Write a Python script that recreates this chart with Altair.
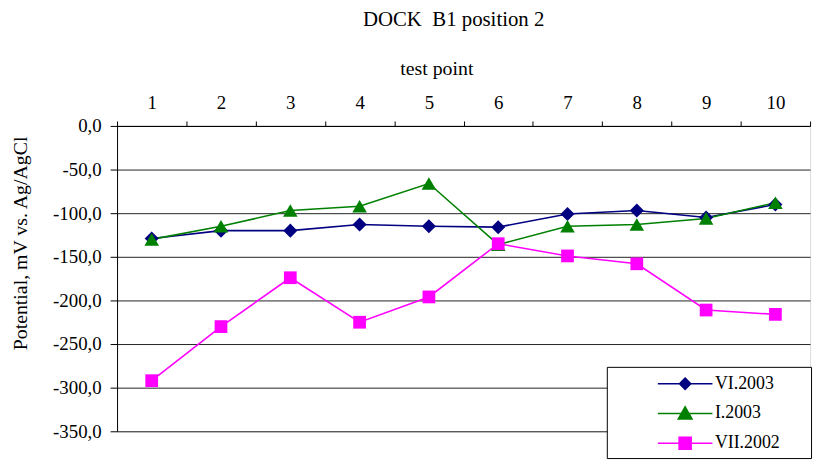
import altair as alt
import pandas as pd

test_points = ["1", "2", "3", "4", "5", "6", "7", "8", "9", "10"]
series_names = ["VI.2003", "I.2003", "VII.2002"]
vi_2003 = [-129, -120, -120, -113, -115, -116, -101, -97, -105, -90]
i_2003 = [-130, -115, -97, -92, -66, -136, -115, -113, -106, -88]
vii_2002 = [-292, -230, -174, -225, -196, -135, -149, -158, -211, -216]
colors = ["#000080", "#008000", "#FF00FF"]
marker_shapes = ["diamond", "triangle-up", "square"]
marker_sizes = [200, 215, 165]
y_ticks = [0, -50, -100, -150, -200, -250, -300, -350]

# legend symbols: short line with marker
legend_paths = [
    "M-2.55,0H2.55M0,-0.52L0.52,0L0,0.52L-0.52,0Z",
    "M-2.55,0H2.55M0,-0.62L0.64,0.52L-0.64,0.52Z",
    "M-2.55,0H2.55M-0.56,-0.56H0.56V0.56H-0.56Z",
]

rows = []
for name, vals in zip(series_names, [vi_2003, i_2003, vii_2002]):
    for tp, v in zip(test_points, vals):
        rows.append({"point": tp, "series": name, "value": v})
df = pd.DataFrame(rows)

FONT = "Liberation Serif"

x_enc = alt.X(
    "point:O",
    sort=test_points,
    scale=alt.Scale(type="band", paddingInner=0, paddingOuter=0),
    axis=alt.Axis(
        orient="top",
        title="test point",
        labelAngle=0,
        tickBand="extent",
        tickSize=5,
        tickColor="black",
        domainColor="black",
        labelFont=FONT,
        labelFontSize=19,
        labelColor="black",
        labelPadding=9,
        titleFont=FONT,
        titleFontSize=20,
        titleFontWeight="normal",
        titleColor="black",
        titleX=322,
        titleY=-58,
        titleBaseline="middle",
        titleAlign="center",
        grid=False,
    ),
)
y_enc = alt.Y(
    "value:Q",
    scale=alt.Scale(domain=[-350, 0], nice=False, zero=False),
    axis=alt.Axis(
        values=y_ticks,
        labelExpr="datum.value + ',0'",
        title="Potential, mV vs. Ag/AgCl",
        grid=True,
        gridColor="#222222",
        gridWidth=1,
        tickColor="black",
        tickSize=7,
        domainColor="black",
        labelFont=FONT,
        labelFontSize=19,
        labelColor="black",
        labelPadding=9,
        titleFont=FONT,
        titleFontSize=20,
        titleFontWeight="normal",
        titleColor="black",
        titleX=-97,
        titleY=118,
        titleBaseline="middle",
        titleAlign="center",
    ),
)

base = alt.Chart(df)

layers = []
for name, col in zip(series_names, colors):
    layers.append(
        base.transform_filter(alt.datum.series == name)
        .mark_line(color=col, strokeWidth=1.6)
        .encode(x=x_enc, y=y_enc)
    )
for name, col, shp, sz in zip(series_names, colors, marker_shapes, marker_sizes):
    layers.append(
        base.transform_filter(alt.datum.series == name)
        .mark_point(color=col, shape=shp, filled=True, size=sz, opacity=1)
        .encode(x=x_enc, y=y_enc)
    )

legend = alt.Legend(
    title=None,
    orient="none",
    legendX=494,
    legendY=243,
    direction="vertical",
    symbolSize=467,
    symbolStrokeWidth=1.6,
    symbolOpacity=1,
    symbolOffset=62,
    labelOffset=18,
    labelFont=FONT,
    labelFontSize=18,
    labelColor="black",
    labelExpr="datum.label + '\u2800\u2800'",
    padding=5,
    rowPadding=9,
    strokeColor="black",
    fillColor="white",
)

legend_layer = base.mark_point(filled=True, opacity=0).encode(
    x=x_enc,
    y=y_enc,
    color=alt.Color("series:N", scale=alt.Scale(domain=series_names, range=colors), legend=legend),
    stroke=alt.Stroke("series:N", scale=alt.Scale(domain=series_names, range=colors), legend=legend),
    shape=alt.Shape("series:N", scale=alt.Scale(domain=series_names, range=legend_paths), legend=legend),
)
layers.append(legend_layer)

chart = (
    alt.layer(*layers)
    .properties(
        width=699,
        height=308,
        autosize="none",
        padding={"left": 110, "top": 117, "right": 6, "bottom": 28},
        title=alt.Title(
            "DOCK\u00a0\u00a0B1 position 2",
            font=FONT,
            fontSize=21,
            fontWeight="normal",
            color="black",
            anchor="middle",
            frame="group",
            dx=-10,
            offset=29,
        ),
    )
    .configure_view(stroke="black", strokeWidth=1)
    .configure(background="white")
)

chart.save("out.html", embed_options={"renderer": "svg", "actions": False})
